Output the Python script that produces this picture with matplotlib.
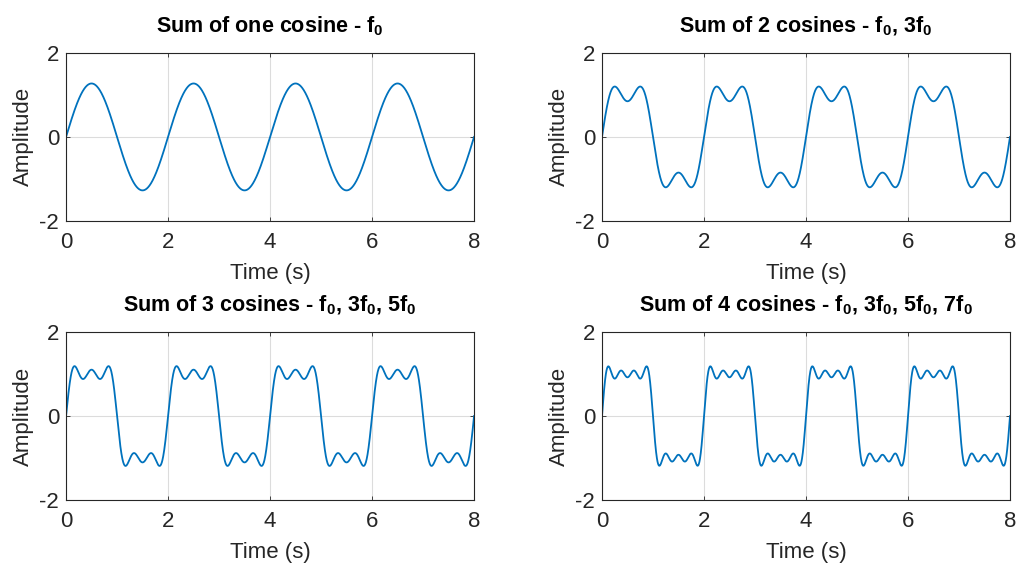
import numpy as np
import matplotlib.pyplot as plt

# fundamental frequency (Hz) and the odd harmonics that are summed
f0 = 0.5
harmonics = [1, 3, 5, 7]
amplitudes = [1.273, 0.424, 0.255, 0.182]
titles = [
    'Sum of one cosine - f$_0$',
    'Sum of 2 cosines - f$_0$, 3f$_0$',
    'Sum of 3 cosines - f$_0$, 3f$_0$, 5f$_0$',
    'Sum of 4 cosines - f$_0$, 3f$_0$, 5f$_0$, 7f$_0$',
]
t_max = 8
xticks = [0, 2, 4, 6, 8]
yticks = [-2, 0, 2]

plt.rcParams['font.family'] = ['Liberation Sans', 'DejaVu Sans']
plt.rcParams['mathtext.default'] = 'regular'
plt.rcParams['axes.unicode_minus'] = False

line_color = '#0072BD'
text_color = '#262626'

fig = plt.figure(figsize=(10.16, 5.65), dpi=100)
positions = [
    [0.065, 0.609, 0.4016, 0.2973],
    [0.5925, 0.609, 0.4016, 0.2973],
    [0.065, 0.115, 0.4016, 0.2973],
    [0.5925, 0.115, 0.4016, 0.2973],
]

t = np.linspace(0, t_max, 2000)
for i, pos in enumerate(positions):
    ax = fig.add_axes(pos)
    y = np.zeros_like(t)
    for n, a in zip(harmonics[:i + 1], amplitudes[:i + 1]):
        y += a * np.sin(2 * np.pi * n * f0 * t)
    ax.plot(t, y, color=line_color, lw=1.3)
    ax.set_xlim(0, t_max)
    ax.set_ylim(-2, 2)
    ax.set_xticks(xticks)
    ax.set_yticks(yticks)
    ax.grid(True, color='#dcdcdc', lw=0.8)
    ax.set_axisbelow(True)
    ax.tick_params(direction='in', length=3, colors=text_color, labelsize=16,
                   top=True, right=True, width=0.6)
    ax.tick_params(axis='x', pad=8)
    ax.tick_params(axis='y', pad=5)
    for s in ax.spines.values():
        s.set_color(text_color)
        s.set_linewidth(0.8)
    ax.set_xlabel('Time (s)', fontsize=16, color=text_color, labelpad=7)
    ax.set_ylabel('Amplitude', fontsize=16, color=text_color, labelpad=4)
    ax.set_title(titles[i], fontsize=15.5, fontweight='bold', pad=15)

fig.savefig('out.png', dpi=100, facecolor='white')
